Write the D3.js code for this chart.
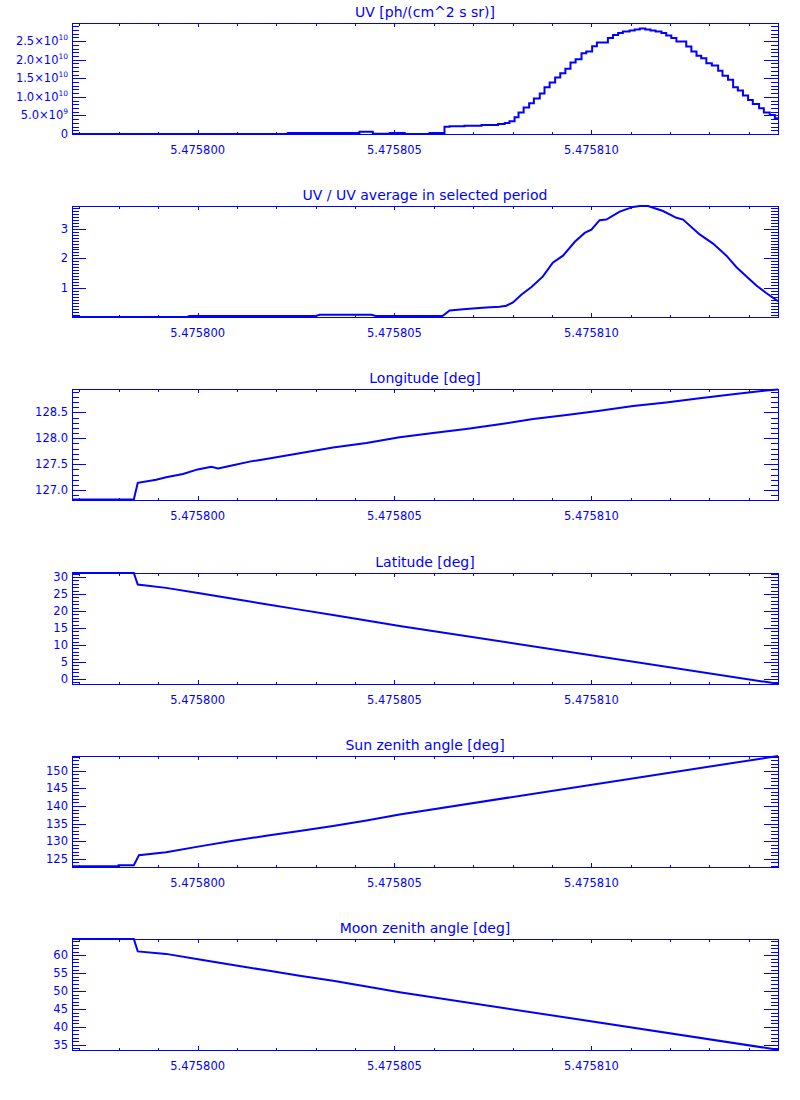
<!DOCTYPE html>
<meta charset="utf-8">
<style>

    body {
        margin: 0;
        background: #fff;
    }

    text {
        font-family: "DejaVu Sans", sans-serif;
        fill: #0000ff;
    }

    .frame {
        fill: none;
        stroke: #0000ff;
        stroke-width: 1px;
        shape-rendering: crispEdges;
    }

    .tick {
        fill: none;
        stroke: #0000ff;
        stroke-width: 1px;
        shape-rendering: crispEdges;
    }

    .trace {
        fill: none;
        stroke: #0000ff;
        stroke-width: 2px;
    }

</style>
<body>
<script src="https://d3js.org/d3.v7.min.js"></script>
<script>

    // time axis, in units of 1e-6 after 5.475800
    var timeRange = [-3.19, 14.74],
        timeTicks = [0, 5, 10];

    // UV, histogram bins (left edge), values in 1e9 ph/(cm^2 s sr)
    var uvTime = [-3.19, 2.29, 4.11, 4.45, 4.88, 5.26, 5.89, 6.27, 6.40, 6.78, 7.21, 7.63, 7.80, 7.92,
        8.05, 8.15, 8.28, 8.42, 8.54, 8.69, 8.81, 8.94, 9.08, 9.21, 9.34, 9.47, 9.60, 9.75, 9.87,
        10.02, 10.14, 10.42, 10.55, 10.68, 10.80, 10.97, 11.10, 11.23, 11.37, 11.50, 11.63, 11.78,
        11.90, 12.03, 12.16, 12.41, 12.54, 12.67, 12.79, 12.92, 13.06, 13.22, 13.33, 13.47, 13.60,
        13.72, 13.85, 13.98, 14.10, 14.26, 14.38, 14.53, 14.66];
    var uvValue = [0, 0.25, 0.6, 0.1, 0.3, 0, 0.3, 1.98, 2.07, 2.25, 2.43, 2.70, 2.97, 3.42,
        4.50, 5.76, 7.11, 8.28, 9.54, 10.89, 12.60, 13.86, 15.21, 16.38, 17.55, 19.26, 20.16, 21.78, 22.23,
        23.67, 24.66, 25.83, 26.64, 27.18, 27.63, 27.90, 28.17, 28.44, 28.17, 27.90, 27.63, 27.18,
        26.55, 25.83, 24.93, 23.58, 22.23, 21.06, 20.43, 19.08, 18.45, 17.01, 15.66, 14.58, 12.60,
        11.70, 10.35, 9.18, 8.10, 6.93, 5.76, 5.13, 4.23];
    var uvRange = [0, 29.9],
        uvTicks = [0, 5, 10, 15, 20, 25];

    // UV / UV average
    var ratioTime = [-3.19, -0.28, -0.20, 3.00, 3.10, 4.42, 4.52, 6.22, 6.40, 6.82, 7.33, 7.67, 7.84,
        8.01, 8.22, 8.48, 8.77, 9.02, 9.28, 9.58, 9.83, 10.00, 10.21, 10.38, 10.72, 11.06, 11.23,
        11.44, 11.82, 12.16, 12.33, 12.75, 13.09, 13.43, 13.68, 13.94, 14.19, 14.44, 14.74];
    var ratioValue = [0.02, 0.02, 0.05, 0.05, 0.09, 0.09, 0.05, 0.05, 0.24, 0.29, 0.34, 0.36, 0.40,
        0.51, 0.77, 1.03, 1.39, 1.85, 2.09, 2.56, 2.86, 2.97, 3.29, 3.31, 3.58, 3.74, 3.77,
        3.77, 3.60, 3.37, 3.31, 2.81, 2.50, 2.09, 1.71, 1.39, 1.08, 0.83, 0.55];
    var ratioRange = [0.017, 3.77],
        ratioTicks = [1, 2, 3];

    // longitude
    var lonTime = [-3.19, -1.62, -1.52, -1.05, -0.80, -0.37, 0, 0.35, 0.52, 0.90, 1.32, 1.74, 2.59,
        3.44, 4.29, 5.13, 5.98, 6.82, 7.67, 8.52, 9.37, 10.21, 11.06, 11.90, 12.75, 13.60, 14.44, 14.74];
    var lonValue = [126.82, 126.82, 127.14, 127.20, 127.25, 127.31, 127.40, 127.45, 127.42, 127.48,
        127.55, 127.60, 127.71, 127.82, 127.91, 128.02, 128.10, 128.18, 128.27, 128.37, 128.45,
        128.53, 128.62, 128.69, 128.77, 128.85, 128.92, 128.94];
    var lonRange = [126.81, 128.95],
        lonTicks = [127.0, 127.5, 128.0, 128.5];

    // latitude
    var latTime = [-3.19, -1.62, -1.52, -0.80, 0.05, 0.90, 1.74, 2.59, 3.44, 4.29, 5.13, 14.74];
    var latValue = [31.17, 31.17, 27.8, 26.8, 25.2, 23.6, 22.0, 20.4, 18.8, 17.2, 15.6, -1.4];
    var latRange = [-1.46, 31.17],
        latTicks = [0, 5, 10, 15, 20, 25, 30];

    // sun zenith angle
    var sunTime = [-3.19, -2.02, -2.01, -1.62, -1.49, -0.80, 0.05, 0.90, 1.74, 2.59, 3.44, 4.29, 5.13, 14.74];
    var sunValue = [122.8, 122.8, 123.1, 123.1, 126.0, 126.8, 128.5, 130.1, 131.5, 132.9, 134.3, 135.9, 137.6, 154.25];
    var sunRange = [122.62, 154.25],
        sunTicks = [125, 130, 135, 140, 145, 150];

    // moon zenith angle
    var moonTime = [-3.19, -1.62, -1.52, -0.80, 0.05, 0.90, 1.74, 2.59, 3.44, 4.29, 5.13, 14.74];
    var moonValue = [64.56, 64.56, 61.1, 60.4, 58.8, 57.3, 55.8, 54.3, 52.9, 51.3, 49.7, 33.6];
    var moonRange = [33.53, 64.56],
        moonTicks = [35, 40, 45, 50, 55, 60];

    var panels = [
        {title: "UV [ph/(cm^2 s sr)]", t: uvTime, v: uvValue, domain: uvRange, ticks: uvTicks, minor: 1, label: uvLabel, step: true},
        {title: "UV / UV average in selected period", t: ratioTime, v: ratioValue, domain: ratioRange, ticks: ratioTicks, minor: 0.1, label: plainLabel(d3.format("d"))},
        {title: "Longitude [deg]", t: lonTime, v: lonValue, domain: lonRange, ticks: lonTicks, minor: 0.1, label: plainLabel(d3.format(".1f"))},
        {title: "Latitude [deg]", t: latTime, v: latValue, domain: latRange, ticks: latTicks, minor: 1, label: plainLabel(d3.format("d"))},
        {title: "Sun zenith angle [deg]", t: sunTime, v: sunValue, domain: sunRange, ticks: sunTicks, minor: 1, label: plainLabel(d3.format("d"))},
        {title: "Moon zenith angle [deg]", t: moonTime, v: moonValue, domain: moonRange, ticks: moonTicks, minor: 1, label: plainLabel(d3.format("d"))}
    ];

    var width = 800,
        height = 1100,
        left = 72,
        right = 778,
        firstTop = 23,
        gap = 183.2,
        plotH = 111;

    var svg = d3.select("body").append("svg")
        .attr("width", width)
        .attr("height", height);

    var x = d3.scaleLinear().domain(timeRange).range([left, right]);
    var xMinor = d3.range(Math.ceil(timeRange[0]), Math.floor(timeRange[1]) + 1);

    panels.forEach(function(p, i) {
        var top = Math.round(firstTop + i * gap),
            bottom = top + plotH;
        var y = d3.scaleLinear().domain(p.domain).range([bottom, top]);
        var g = svg.append("g");

        g.append("clipPath").attr("id", "clip" + i)
            .append("rect")
            .attr("x", left).attr("y", top - 1)
            .attr("width", right - left).attr("height", plotH + 2);

        // y ticks, left and right side, pointing inward
        var yMinor = d3.range(Math.ceil(p.domain[0] / p.minor - 1e-6), Math.floor(p.domain[1] / p.minor + 1e-6) + 1)
            .map(function(k) { return k * p.minor; });
        var tickPath = d3.path();
        yMinor.forEach(function(v) {
            var yy = Math.round(y(v)) + 0.5;
            tickPath.moveTo(left, yy); tickPath.lineTo(left + 7, yy);
            tickPath.moveTo(right, yy); tickPath.lineTo(right - 7, yy);
        });
        p.ticks.forEach(function(v) {
            var yy = Math.round(y(v)) + 0.5;
            tickPath.moveTo(left, yy); tickPath.lineTo(left + 14, yy);
            tickPath.moveTo(right, yy); tickPath.lineTo(right - 14, yy);
        });
        // x ticks, bottom and top
        xMinor.forEach(function(t) {
            var xx = Math.round(x(t)) + 0.5;
            tickPath.moveTo(xx, bottom); tickPath.lineTo(xx, bottom - 2.5);
            tickPath.moveTo(xx, top); tickPath.lineTo(xx, top + 2.5);
        });
        timeTicks.forEach(function(t) {
            var xx = Math.round(x(t)) + 0.5;
            tickPath.moveTo(xx, bottom); tickPath.lineTo(xx, bottom - 4);
            tickPath.moveTo(xx, top); tickPath.lineTo(xx, top + 4);
        });
        g.append("path").attr("class", "tick").attr("d", tickPath.toString());

        g.append("rect").attr("class", "frame")
            .attr("x", left + 0.5).attr("y", top + 0.5)
            .attr("width", right - left).attr("height", plotH);

        // data trace
        var pts = p.t.map(function(t, k) { return [t, p.v[k]]; });
        if (p.step) pts.push([timeRange[1], p.v[p.v.length - 1]]);
        var line = d3.line()
            .x(function(d) { return x(d[0]); })
            .y(function(d) { return y(d[1]); })
            .curve(p.step ? d3.curveStepAfter : d3.curveLinear);
        g.append("path").attr("class", "trace")
            .attr("clip-path", "url(#clip" + i + ")")
            .attr("d", line(pts));

        // labels
        g.append("text")
            .attr("x", (left + right) / 2)
            .attr("y", top - 6)
            .attr("text-anchor", "middle")
            .attr("font-size", "14px")
            .text(p.title);

        g.selectAll(".xlab").data(timeTicks).enter().append("text")
            .attr("x", function(t) { return x(t); })
            .attr("y", bottom + 19.5)
            .attr("text-anchor", "middle")
            .attr("font-size", "11.5px")
            .text(function(t) { return (5.4758 + t * 1e-6).toFixed(6); });

        g.selectAll(".ylab").data(p.ticks).enter().append("text")
            .attr("x", left - 4)
            .attr("y", function(v) { return y(v); })
            .attr("dy", "0.35em")
            .attr("text-anchor", "end")
            .attr("font-size", "11.5px")
            .each(function(v) { p.label(d3.select(this), v); });
    });

    function plainLabel(fmt) {
        return function(sel, v) { sel.text(fmt(v)); };
    }

    // 5 -> 5.0x10^9, 25 -> 2.5x10^10 (values are in 1e9)
    function uvLabel(sel, v) {
        if (v === 0) { sel.text("0"); return; }
        var e = Math.floor(Math.log10(v * 1e9) + 1e-9),
            m = v * 1e9 / Math.pow(10, e);
        sel.append("tspan").text(m.toFixed(1) + "×10");
        sel.append("tspan").attr("dy", -5).attr("font-size", "7.5px").text(e);
    }

</script>
</body>
</html>
